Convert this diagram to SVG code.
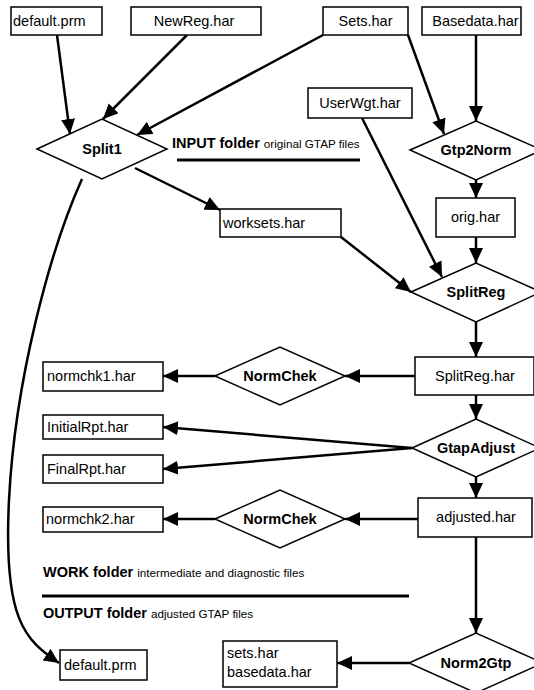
<svg xmlns="http://www.w3.org/2000/svg" width="534" height="690" viewBox="0 0 534 690">
<style>
.box{fill:#fff;stroke:#000;stroke-width:1.5}
.dia{fill:#fff;stroke:#000;stroke-width:1.5}
.t{font-family:"Liberation Sans",Arial,sans-serif;font-size:14.5px;fill:#000}
.c{text-anchor:middle}
.b{font-weight:bold}
.s{font-size:11.7px;font-weight:normal}
.e{fill:none;stroke:#000;stroke-width:2.5}
.sep{stroke:#000;stroke-width:3}
</style>
<defs>
<marker id="ah" markerUnits="userSpaceOnUse" markerWidth="16" markerHeight="16" refX="15" refY="7" orient="auto">
<path d="M0,0 L15,7 L0,14 z" fill="#000"/>
</marker>
</defs>
<rect width="534" height="690" fill="#fff"/>

<g id="connectors">
<line class="e" x1="57" y1="35" x2="70" y2="134" marker-end="url(#ah)"/>
<line class="e" x1="187" y1="35" x2="103" y2="119" marker-end="url(#ah)"/>
<line class="e" x1="323" y1="35" x2="137" y2="135" marker-end="url(#ah)"/>
<line class="e" x1="408" y1="35" x2="444" y2="134" marker-end="url(#ah)"/>
<line class="e" x1="476" y1="35" x2="476" y2="121" marker-end="url(#ah)"/>
<line class="e" x1="476" y1="180" x2="476" y2="198" marker-end="url(#ah)"/>
<line class="e" x1="476" y1="237" x2="476" y2="263" marker-end="url(#ah)"/>
<line class="e" x1="135" y1="168" x2="220" y2="210" marker-end="url(#ah)"/>
<line class="e" x1="341" y1="237" x2="411" y2="292" marker-end="url(#ah)"/>
<line class="e" x1="362" y1="118" x2="442" y2="277" marker-end="url(#ah)"/>
<line class="e" x1="476" y1="322" x2="476" y2="357" marker-end="url(#ah)"/>
<line class="e" x1="415" y1="376" x2="345" y2="376" marker-end="url(#ah)"/>
<line class="e" x1="215" y1="376" x2="163" y2="376" marker-end="url(#ah)"/>
<line class="e" x1="476" y1="395" x2="476" y2="419" marker-end="url(#ah)"/>
<line class="e" x1="412" y1="448" x2="163" y2="427" marker-end="url(#ah)"/>
<line class="e" x1="412" y1="448" x2="163" y2="469" marker-end="url(#ah)"/>
<line class="e" x1="476" y1="477" x2="476" y2="498" marker-end="url(#ah)"/>
<line class="e" x1="418" y1="519" x2="345" y2="519" marker-end="url(#ah)"/>
<line class="e" x1="215" y1="519" x2="163" y2="519" marker-end="url(#ah)"/>
<line class="e" x1="476" y1="537" x2="476" y2="633" marker-end="url(#ah)"/>
<line class="e" x1="409" y1="663" x2="337" y2="663" marker-end="url(#ah)"/>
<path class="e" d="M82,179 C50,250 15,380 9,500 S25,640 59,663" marker-end="url(#ah)"/>
</g>

<g id="n-defaultprm-in"><rect class="box" x="11" y="7" width="91" height="28"/><text class="t" x="13" y="26">default.prm</text></g>
<g id="n-newreg"><rect class="box" x="131" y="7" width="130" height="28"/><text class="t c" x="194" y="26">NewReg.har</text></g>
<g id="n-sets"><rect class="box" x="323" y="7" width="85" height="28"/><text class="t c" x="365.5" y="26">Sets.har</text></g>
<g id="n-basedata"><rect class="box" x="422" y="7" width="99" height="28"/><text class="t c" x="475.5" y="26">Basedata.har</text></g>
<g id="n-userwgt"><rect class="box" x="308" y="88" width="104" height="30"/><text class="t c" x="360" y="108">UserWgt.har</text></g>
<g id="n-split1"><polygon class="dia" points="37,149 102,119 167,149 102,179"/><text class="t c b" x="102" y="154">Split1</text></g>
<g id="n-gtp2norm"><polygon class="dia" points="410,150 476,121 542,150 476,180"/><text class="t c b" x="476" y="155">Gtp2Norm</text></g>
<g id="n-orig"><rect class="box" x="436" y="198" width="79" height="39"/><text class="t c" x="475.5" y="222">orig.har</text></g>
<g id="n-worksets"><rect class="box" x="220" y="209" width="121" height="28"/><text class="t" x="223" y="228">worksets.har</text></g>
<g id="n-splitreg"><polygon class="dia" points="411,292 476,263 541,292 476,322"/><text class="t c b" x="476" y="297">SplitReg</text></g>
<g id="n-splitreghar"><rect class="box" x="415" y="357" width="119" height="38"/><text class="t c" x="475" y="381">SplitReg.har</text></g>
<g id="n-normchek1"><polygon class="dia" points="215,376 280,347 345,376 280,405"/><text class="t c b" x="280" y="381">NormChek</text></g>
<g id="n-normchk1"><rect class="box" x="43" y="362" width="120" height="29"/><text class="t" x="47" y="381">normchk1.har</text></g>
<g id="n-gtapadjust"><polygon class="dia" points="412,448 476,419 540,448 476,477"/><text class="t c b" x="476" y="453">GtapAdjust</text></g>
<g id="n-initialrpt"><rect class="box" x="43" y="415" width="120" height="24"/><text class="t" x="47" y="432">InitialRpt.har</text></g>
<g id="n-finalrpt"><rect class="box" x="43" y="455" width="120" height="28"/><text class="t" x="47" y="474">FinalRpt.har</text></g>
<g id="n-adjusted"><rect class="box" x="418" y="498" width="114" height="39"/><text class="t c" x="476" y="522">adjusted.har</text></g>
<g id="n-normchek2"><polygon class="dia" points="215,519 280,490 345,519 280,548"/><text class="t c b" x="280" y="524">NormChek</text></g>
<g id="n-normchk2"><rect class="box" x="43" y="507" width="120" height="25"/><text class="t" x="46" y="524">normchk2.har</text></g>
<g id="n-norm2gtp"><polygon class="dia" points="409,663 476,633 543,663 476,693"/><text class="t c b" x="476" y="668">Norm2Gtp</text></g>
<g id="n-setsout"><rect class="box" x="223" y="641" width="114" height="46"/><text class="t" x="227" y="658">sets.har</text><text class="t" x="227" y="677">basedata.har</text></g>
<g id="n-defaultprm-out"><rect class="box" x="60" y="650" width="87" height="30"/><text class="t" x="64" y="670">default.prm</text></g>

<g id="folders">
<text class="t b" x="172" y="148">INPUT folder <tspan class="s">original GTAP files</tspan></text>
<line class="sep" x1="177" y1="160" x2="360" y2="160"/>
<text class="t b" x="43" y="577">WORK folder <tspan class="s">intermediate and diagnostic files</tspan></text>
<line class="sep" x1="42" y1="596" x2="409" y2="596"/>
<text class="t b" x="43" y="618">OUTPUT folder <tspan class="s">adjusted GTAP files</tspan></text>
</g>
</svg>
